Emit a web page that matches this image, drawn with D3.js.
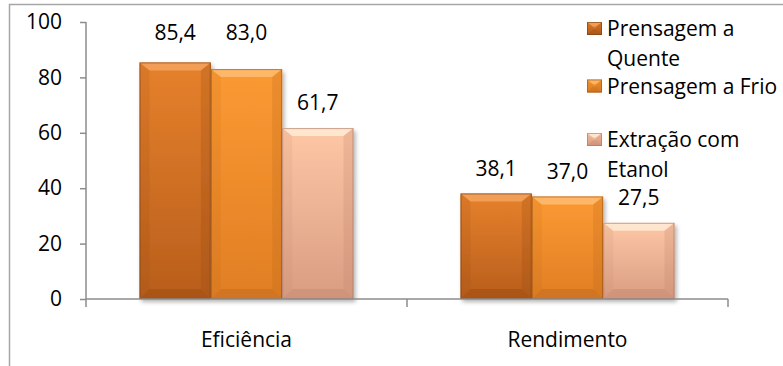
<!DOCTYPE html>
<html>
<head>
<meta charset="utf-8">
<script src="https://cdn.jsdelivr.net/npm/d3@7/dist/d3.min.js"></script>
<style>
  html, body { margin: 0; padding: 0; background: #fff; }
  svg { display: block; }
  text { font-family: "Open Sans", "Noto Sans", sans-serif; fill: #000; }
</style>
</head>
<body>
<svg id="chart" width="783" height="366"></svg>
<script>
// Categories, series and values
const categories = ["Eficiência", "Rendimento"];
const seriesNames = ["Prensagem a Quente", "Prensagem a Frio", "Extração com Etanol"];
const legendLines = [["Prensagem a", "Quente"], ["Prensagem a Frio"], ["Extração com", "Etanol"]];
const quente = [85.4, 38.1];
const frio = [83.0, 37.0];
const etanol = [61.7, 27.5];
const yTicks = [0, 20, 40, 60, 80, 100];

// Fill colours per series
const palette = [
  { top: "#e6812c", bot: "#b85e1c", edge: "#7a3e10", light: "#f6a866", dark: "#8f4512" },
  { top: "#fb9a33", bot: "#e07e24", edge: "#9a5414", light: "#ffc27a", dark: "#b5621a" },
  { top: "#fec7a5", bot: "#d99d82", edge: "#a87460", light: "#fff0dc", dark: "#b98068" }
];
const FS = 21;

const values = [quente, frio, etanol];
const data = [];
categories.forEach((c, ci) => {
  values.forEach((arr, si) => data.push({ cat: c, s: si, v: arr[ci] }));
});

const svg = d3.select("#chart");
const fmt = v => d3.format(".1f")(v).replace(".", ",");

// Outer frame
svg.append("rect")
  .attr("x", 9.5).attr("y", 4.5).attr("width", 900).attr("height", 500)
  .attr("fill", "none").attr("stroke", "#a6a6a6").attr("stroke-width", 1.5);

const plot = { left: 86, right: 728, top: 22, bottom: 299 };

const x0 = d3.scaleBand().domain(categories).range([plot.left, plot.right]).paddingInner(0).paddingOuter(0);
// Gap width 150%: each group of 3 bars uses 3/4.5 of the band
const x1 = d3.scaleBand().domain(d3.range(seriesNames.length))
  .range([0, x0.bandwidth()]).paddingInner(0).paddingOuter(0.75);
const y = d3.scaleLinear().domain([0, 100]).range([plot.bottom, plot.top]);

const defs = svg.append("defs");
palette.forEach((p, i) => {
  const g = defs.append("linearGradient").attr("id", "grad" + i)
    .attr("x1", 0).attr("y1", 0).attr("x2", 0).attr("y2", 1);
  g.append("stop").attr("offset", "0%").attr("stop-color", p.top);
  g.append("stop").attr("offset", "100%").attr("stop-color", p.bot);
});
const shadow = defs.append("filter").attr("id", "shadow")
  .attr("x", "-20%").attr("y", "-20%").attr("width", "140%").attr("height", "140%");
shadow.append("feGaussianBlur").attr("in", "SourceAlpha").attr("stdDeviation", 2).attr("result", "b");
shadow.append("feOffset").attr("in", "b").attr("dx", 1.5).attr("dy", 2.5).attr("result", "o");
shadow.append("feComponentTransfer").attr("in", "o").attr("result", "s")
  .append("feFuncA").attr("type", "linear").attr("slope", 0.3);
const m = shadow.append("feMerge");
m.append("feMergeNode").attr("in", "s");
m.append("feMergeNode").attr("in", "SourceGraphic");

// Axes
const axisColor = "#8c8c8c";
const yAxis = svg.append("g").attr("transform", `translate(${plot.left},0)`)
  .call(d3.axisLeft(y).tickValues(yTicks).tickSize(6).tickPadding(18).tickFormat(d3.format("d")));
yAxis.select(".domain").attr("stroke", axisColor).attr("stroke-width", 1.5)
  .attr("d", `M0,${plot.top}V${plot.bottom}`);
yAxis.selectAll(".tick line").attr("stroke", axisColor).attr("stroke-width", 1.5);
yAxis.selectAll(".tick text").attr("font-size", FS).attr("font-family", "'Open Sans', sans-serif").attr("fill", "#000");

// Bevelled rectangle
function bevelRect(g, x, yTop, w, h, p, b, withShadow) {
  const grp = g.append("g");
  if (withShadow) grp.attr("filter", "url(#shadow)");
  grp.append("rect").attr("x", x).attr("y", yTop).attr("width", w).attr("height", h)
    .attr("fill", `url(#grad${palette.indexOf(p)})`);
  const bb = Math.min(b, h / 2, w / 2);
  const tb = Math.min(b * 0.8, h / 2);
  grp.append("polygon")
    .attr("points", [[x, yTop], [x + w, yTop], [x + w - bb, yTop + tb], [x + bb, yTop + tb]].join(" "))
    .attr("fill", p.light).attr("opacity", 0.75);
  grp.append("polygon")
    .attr("points", [[x, yTop + h], [x + w, yTop + h], [x + w - bb, yTop + h - bb], [x + bb, yTop + h - bb]].join(" "))
    .attr("fill", p.dark).attr("opacity", 0.35);
  grp.append("polygon")
    .attr("points", [[x, yTop], [x + bb, yTop + tb], [x + bb, yTop + h - bb], [x, yTop + h]].join(" "))
    .attr("fill", p.dark).attr("opacity", 0.12);
  grp.append("polygon")
    .attr("points", [[x + w, yTop], [x + w - bb, yTop + tb], [x + w - bb, yTop + h - bb], [x + w, yTop + h]].join(" "))
    .attr("fill", p.dark).attr("opacity", 0.22);
  grp.append("rect").attr("x", x + 0.5).attr("y", yTop + 0.5).attr("width", w - 1).attr("height", h - 1)
    .attr("fill", "none").attr("stroke", p.edge).attr("stroke-opacity", 0.6).attr("stroke-width", 1);
  return grp;
}

// Bars
const barsG = svg.append("g");
data.forEach(d => {
  const bx = x0(d.cat) + x1(d.s);
  const by = y(d.v);
  bevelRect(barsG, bx, by, x1.bandwidth(), y(0) - by, palette[d.s], 10, true);
});

// X axis
const xAxis = svg.append("g").attr("transform", `translate(0,${plot.bottom})`);
xAxis.append("line").attr("x1", plot.left).attr("x2", plot.right).attr("y1", 0).attr("y2", 0)
  .attr("stroke", axisColor).attr("stroke-width", 1.5);
const xBounds = [plot.left].concat(categories.map(c => x0(c) + x0.bandwidth()));
xAxis.selectAll("line.tick").data(xBounds).join("line").attr("class", "tick")
  .attr("x1", d => d).attr("x2", d => d).attr("y1", 0).attr("y2", 8)
  .attr("stroke", axisColor).attr("stroke-width", 1.5);
xAxis.selectAll("text").data(categories).join("text")
  .attr("x", d => x0(d) + x0.bandwidth() / 2).attr("y", 48)
  .attr("text-anchor", "middle").attr("font-size", FS).text(d => d);

// Value labels
svg.append("g").selectAll("text").data(data).join("text")
  .attr("x", d => x0(d.cat) + x1(d.s) + x1.bandwidth() / 2)
  .attr("y", d => (d.v > 80 ? y(100) + 11 : y(d.v) - 25))
  .attr("dy", "0.35em")
  .attr("text-anchor", "middle").attr("font-size", FS)
  .text(d => fmt(d.v));

// Legend: each entry gets a two-line slot
const legend = svg.append("g").attr("transform", "translate(587,0)");
const entryBase = [36, 93.5, 147];
legendLines.forEach((lines, i) => {
  const base = entryBase[i];
  bevelRect(legend, 0, base - 14, 15, 13, palette[i], 6, false);
  lines.forEach((ln, li) => {
    legend.append("text").attr("x", 20).attr("y", base + li * 29.5)
      .attr("font-size", FS).text(ln);
  });
});
</script>
</body>
</html>
